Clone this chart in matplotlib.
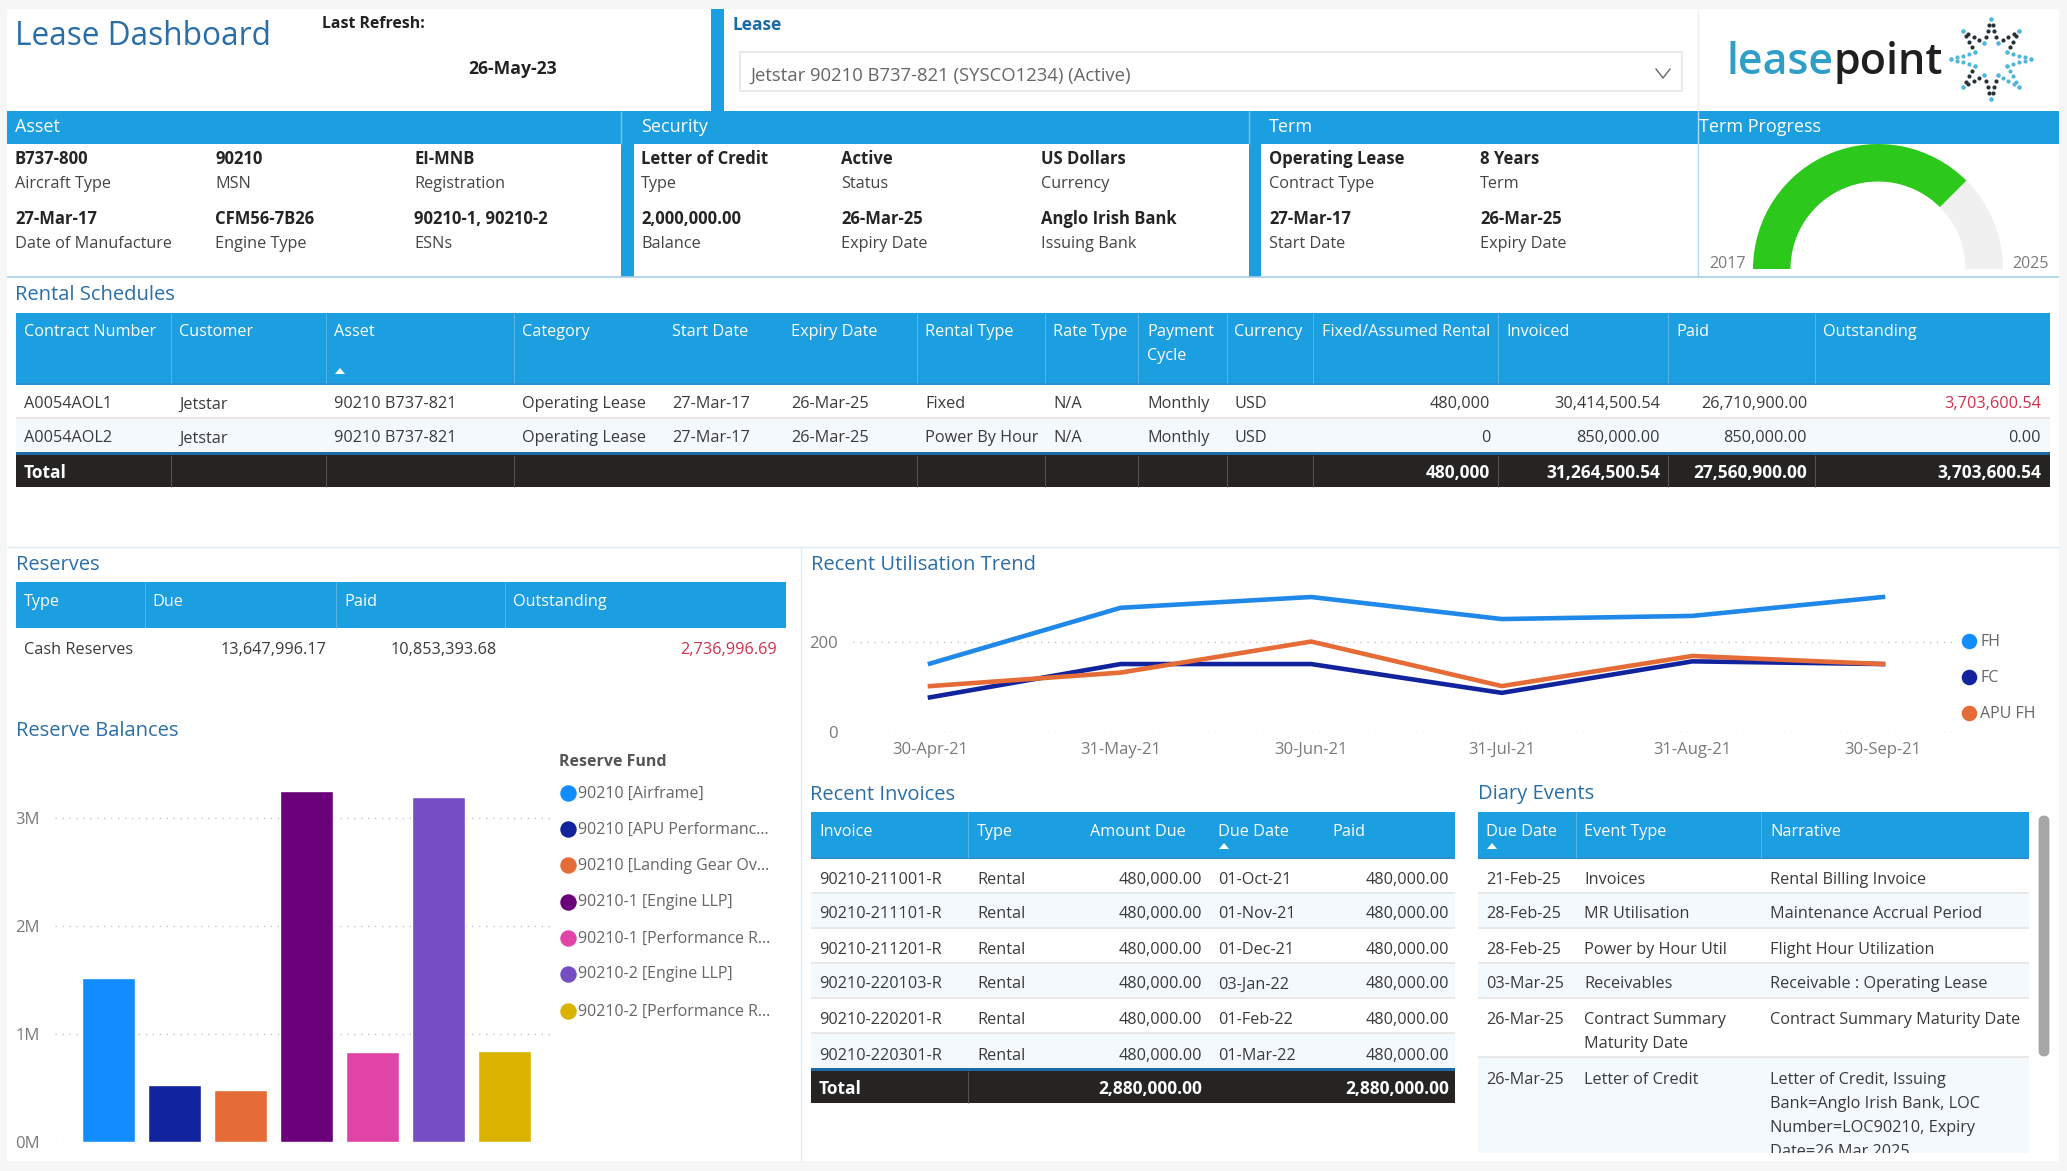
"""Lease dashboard, redrawn with one pixel-space canvas and real axes for the charts."""
import numpy as np
import matplotlib
matplotlib.use("Agg")
import matplotlib.pyplot as plt
from matplotlib.patches import Rectangle, Wedge, FancyBboxPatch, Polygon

plt.rcParams['font.family'] = ['Open Sans', 'DejaVu Sans']

W, H = 2067, 1171
BLUE = '#1c9fe0'
TITLE = '#2a6ea8'
DARK = '#252423'
GREY = '#7a7a7a'
RED = '#d0304a'
ALT = '#f3f9fd'
FS = 11.7   # body text, points
FSB = 12.5  # bold body text

# --- data ---
asset_rows = [("B737-800", "Aircraft Type"), ("90210", "MSN"), ("EI-MNB", "Registration"),
              ("27-Mar-17", "Date of Manufacture"), ("CFM56-7B26", "Engine Type"), ("90210-1, 90210-2", "ESNs")]
security_rows = [("Letter of Credit", "Type"), ("Active", "Status"), ("US Dollars", "Currency"),
                 ("2,000,000.00", "Balance"), ("26-Mar-25", "Expiry Date"), ("Anglo Irish Bank", "Issuing Bank")]
term_rows = [("Operating Lease", "Contract Type"), ("8 Years", "Term"),
             ("27-Mar-17", "Start Date"), ("26-Mar-25", "Expiry Date")]

gauge_min, gauge_max, gauge_value = 2017, 2025, 2023

rental_header = ["Contract Number", "Customer", "Asset", "Category", "Start Date", "Expiry Date", "Rental Type",
                 "Rate Type", "Payment\nCycle", "Currency", "Fixed/Assumed Rental", "Invoiced", "Paid", "Outstanding"]
rental_rows = [
    ["A0054AOL1", "Jetstar", "90210 B737-821", "Operating Lease", "27-Mar-17", "26-Mar-25", "Fixed", "N/A",
     "Monthly", "USD", "480,000", "30,414,500.54", "26,710,900.00", "3,703,600.54"],
    ["A0054AOL2", "Jetstar", "90210 B737-821", "Operating Lease", "27-Mar-17", "26-Mar-25", "Power By Hour", "N/A",
     "Monthly", "USD", "0", "850,000.00", "850,000.00", "0.00"],
]
rental_total = ["480,000", "31,264,500.54", "27,560,900.00", "3,703,600.54"]

reserve_header = ["Type", "Due", "Paid", "Outstanding"]
reserve_row = ["Cash Reserves", "13,647,996.17", "10,853,393.68", "2,736,996.69"]

fund_names = ["90210 [Airframe]", "90210 [APU Performanc...", "90210 [Landing Gear Ov...", "90210-1 [Engine LLP]",
              "90210-1 [Performance R...", "90210-2 [Engine LLP]", "90210-2 [Performance R..."]
fund_values = [1.52e6, 0.53e6, 0.484e6, 3.247e6, 0.836e6, 3.195e6, 0.844e6]
fund_colors = ['#118DFF', '#12239E', '#E66C37', '#6B007B', '#E044A7', '#744EC2', '#D9B300']

util_dates = ["30-Apr-21", "31-May-21", "30-Jun-21", "31-Jul-21", "31-Aug-21", "30-Sep-21"]
util_fh = [152, 276, 300, 251, 258, 300]
util_fc = [77, 151, 151, 87, 157, 151]
util_apu = [102, 132, 201, 102, 169, 151]

invoice_header = ["Invoice", "Type", "Amount Due", "Due Date", "Paid"]
invoice_ids = ["90210-211001-R", "90210-211101-R", "90210-211201-R", "90210-220103-R", "90210-220201-R", "90210-220301-R"]
invoice_due = ["01-Oct-21", "01-Nov-21", "01-Dec-21", "03-Jan-22", "01-Feb-22", "01-Mar-22"]
invoice_amount = "480,000.00"
invoice_total = "2,880,000.00"

diary_dates = ["21-Feb-25", "28-Feb-25", "28-Feb-25", "03-Mar-25", "26-Mar-25", "26-Mar-25"]
diary_types = ["Invoices", "MR Utilisation", "Power by Hour Util", "Receivables", "Contract Summary\nMaturity Date", "Letter of Credit"]
diary_notes = ["Rental Billing Invoice", "Maintenance Accrual Period", "Flight Hour Utilization", "Receivable : Operating Lease",
               "Contract Summary Maturity Date", "Letter of Credit, Issuing\nBank=Anglo Irish Bank, LOC\nNumber=LOC90210, Expiry\nDate=26 Mar 2025"]

# --- canvas in pixels ---
fig = plt.figure(figsize=(W / 100, H / 100), dpi=100, facecolor='#f6f6f6')
cv = fig.add_axes([0, 0, 1, 1])
cv.set_xlim(0, W)
cv.set_ylim(H, 0)
cv.axis('off')


def box(x0, y0, x1, y1, color, z=1, **kw):
    cv.add_patch(Rectangle((x0, y0), x1 - x0, y1 - y0, facecolor=color, edgecolor='none', zorder=z, **kw))


def put(x, y, s, color='#3a3a3a', size=None, weight='normal', ha='left', **kw):
    if size is None:
        size = FSB if weight == 'bold' else FS
    return cv.text(x, y + 2.5, s, color=color, fontsize=size, fontweight=weight, ha=ha, va='center', zorder=5, **kw)


def hline(x0, x1, y, color, lw=1.0):
    cv.plot([x0, x1], [y, y], color=color, lw=lw, zorder=3, solid_capstyle='butt')


def vline(x, y0, y1, color, lw=1.0):
    cv.plot([x, x], [y0, y1], color=color, lw=lw, zorder=3, solid_capstyle='butt')


def heading(x, y, s):
    put(x, y, s, color=TITLE, size=14.5)


def arrow_up(x, y):
    cv.add_patch(Polygon([(x - 5, y + 3), (x + 5, y + 3), (x, y - 3)], facecolor='white', edgecolor='none', zorder=5))


box(7, 9, 2059, 1161, 'white')

# top strip
put(15, 34, "Lease Dashboard", color=TITLE, size=22.8)
put(322, 21, "Last Refresh:", color='#222222', weight='bold', size=11.4)
put(468, 67, "26-May-23", color='#222222', weight='bold', size=12.7)
box(711, 9, 724, 111, BLUE)
put(733, 23, "Lease", color='#1b6aa5', weight='bold', size=12.5)
cv.add_patch(Rectangle((740, 52), 942, 39, facecolor='white', edgecolor='#e6e6e6', lw=1.2, zorder=2))
put(750, 73, "Jetstar 90210 B737-821 (SYSCO1234) (Active)", color='#666666', size=13.3)
cv.plot([1656, 1663, 1670], [69, 78, 69], color='#666666', lw=1.0, zorder=5)
vline(1698, 9, 111, '#eeeeee')

# logo
lt = put(1726, 60, "lease", color='#2f9fc8', size=31, weight='semibold')
fig.canvas.draw()
bb = lt.get_window_extent()
put(bb.x1, 60, "point", color='#1f1f1f', size=31, weight='semibold')
star_dark, star_teal = '#26323a', '#4fb6dc'
for i in range(8):
    mid = np.deg2rad(i * 45)
    tip = np.array([np.sin(mid), -np.cos(mid)]) * 40
    for side in (-1, 1):
        a = mid + side * np.deg2rad(22.5)
        base = np.array([np.sin(a), -np.cos(a)]) * 17
        for k, t in enumerate([0.0, 0.25, 0.5, 0.75, 1.0]):
            p = tip + (base - tip) * t
            col = star_teal if (k in (0, 4) or i in (2, 3, 6)) else star_dark
            cv.scatter(1991 + p[0], 59 + p[1], s=9, color=col, zorder=5, linewidths=0)

# section bands
box(7, 111, 2059, 144, BLUE)
for x, s in [(15, "Asset"), (641, "Security"), (1269, "Term"), (1699, "Term Progress")]:
    put(x, 124, s, color='white', size=13)
box(621, 144, 634, 277, BLUE)
box(1249, 144, 1261, 277, BLUE)
vline(621, 111, 144, '#7cc5ec')
vline(1249, 111, 144, '#7cc5ec')
vline(1698, 111, 277, '#b5d8ec')
hline(7, 2059, 277, '#a8d0e8', 1.2)


def kv_block(rows, xs, per_row):
    for i, (val, lab) in enumerate(rows):
        r, c = divmod(i, per_row)
        put(xs[c], 156 + 60 * r, val, color='#252423', weight='bold', size=12)
        put(xs[c], 182 + 59 * r, lab, color='#444444')


kv_block(asset_rows, [15, 215, 414], 3)
kv_block(security_rows, [641, 841, 1041], 3)
kv_block(term_rows, [1269, 1480], 2)

# gauge: a real axes, value sets the sweep
gx = fig.add_axes([1753 / W, 1 - 269 / H, 250 / W, 125 / H])
gx.set_xlim(-1, 1)
gx.set_ylim(0, 1)
gx.axis('off')
frac = (gauge_value - gauge_min) / (gauge_max - gauge_min)
split = 180 * (1 - frac)
gx.add_patch(Wedge((0, 0), 1, 0, split, width=0.3, facecolor='#f0f0f0', edgecolor='none'))
gx.add_patch(Wedge((0, 0), 1, split, 180, width=0.3, facecolor='#2dc81c', edgecolor='none'))
put(1709, 261, str(gauge_min), color=GREY, size=11.5)
put(2049, 261, str(gauge_max), color=GREY, size=11.5, ha='right')

# rental schedules table
heading(15, 293, "Rental Schedules")
seps = [171, 326, 514, 917, 1045, 1138, 1227, 1313, 1498, 1668, 1815]
col_x = [24, 179, 334, 522, 672, 791, 925, 1053, 1147, 1234, 1322, 1506, 1676, 1823]
col_r = {10: 1490, 11: 1660, 12: 1807, 13: 2041}
box(16, 313, 2050, 383, BLUE)
hline(16, 2050, 384, '#2b8fd0', 1.5)
for x in seps:
    vline(x, 313, 383, '#59b6e8', 0.7)
for x, s in zip(col_x, rental_header):
    for j, part in enumerate(s.split('\n')):
        put(x, 330 + j * 24, part, color='white')
arrow_up(340, 371)
box(16, 419, 2050, 452, ALT)
hline(16, 2050, 418, '#e8e8e8', 1.6)
for r, (row, y) in enumerate(zip(rental_rows, [402, 436])):
    for c, s in enumerate(row):
        if c in col_r:
            col = RED if (c == 13 and r == 0) else '#3a3a3a'
            put(col_r[c], y, s, color=col, ha='right')
        else:
            put(col_x[c], y, s)
box(16, 452, 2050, 455, '#1b6aa5')
box(16, 455, 2050, 487, DARK)
for x in seps:
    vline(x, 455, 487, '#555555', 0.7)
put(24, 470, "Total", color='white', weight='bold')
for c, s in zip([10, 11, 12, 13], rental_total):
    put(col_r[c], 470, s, color='white', weight='bold', ha='right')

# lower panels dividers
hline(7, 2059, 547, '#dcecf5', 1.0)
vline(801, 547, 1161, '#dcecf5', 1.0)

# reserves
heading(16, 562, "Reserves")
box(16, 582, 786, 628, BLUE)
for x in [145, 336, 505]:
    vline(x, 582, 628, '#59b6e8', 0.7)
for x, s in zip([24, 152, 344, 513], reserve_header):
    put(x, 600, s, color='white')
put(24, 648, reserve_row[0])
put(327, 648, reserve_row[1], ha='right')
put(497, 648, reserve_row[2], ha='right')
put(777, 648, reserve_row[3], color=RED, ha='right')

# reserve balances bars
heading(16, 729, "Reserve Balances")
bx = fig.add_axes([55 / W, 1 - 1142 / H, (554 - 55) / W, (1142 - 770) / H])
bx.patch.set_alpha(0)
bx.bar(range(len(fund_values)), fund_values, width=0.8, color=fund_colors, edgecolor='white', linewidth=1.0, zorder=3)
bx.set_xlim(-0.81, 6.75)
bx.set_ylim(0, (1142 - 770) / 108 * 1e6)
bx.set_yticks([0, 1e6, 2e6, 3e6])
bx.set_yticklabels(["0M", "1M", "2M", "3M"], color=GREY, fontsize=12)
bx.set_xticks([])
bx.tick_params(axis='y', length=0, pad=11)
bx.grid(axis='y', color='#c4c4c4', linestyle=(0, (1, 4)), linewidth=1.0, zorder=0)
for sp in bx.spines.values():
    sp.set_visible(False)

put(559, 760, "Reserve Fund", color='#555555', weight='bold', size=11.5)
for name, col, y in zip(fund_names, fund_colors, [793, 829, 865, 902, 938, 974, 1011]):
    cv.scatter(568, y, s=140, color=col, zorder=5, linewidths=0)
    put(578, y - 2, name, color='#666666', size=11.5)

# utilisation lines
heading(811, 562, "Recent Utilisation Trend")
lx = fig.add_axes([853 / W, 1 - 732 / H, (1956 - 853) / W, (732 - 590) / H])
lx.patch.set_alpha(0)
xs = np.arange(len(util_dates))
line_colors = ['#2088e8', '#12239E', '#E66C37']
lx.plot(xs, util_fh, color=line_colors[0], lw=3.3, zorder=3)
lx.plot(xs, util_fc, color=line_colors[1], lw=3.3, zorder=3)
lx.plot(xs, util_apu, color=line_colors[2], lw=3.3, zorder=4)
lx.set_xlim(-0.404, 5.383)
lx.set_ylim(0, (732 - 590) / 0.45)
lx.set_yticks([0, 200])
lx.set_yticklabels(["0", "200"], color=GREY, fontsize=12)
lx.set_xticks(xs)
lx.set_xticklabels(util_dates, color=GREY, fontsize=12)
lx.tick_params(axis='x', length=0, pad=7)
lx.tick_params(axis='y', length=0, pad=11)
lx.grid(axis='y', color='#c4c4c4', linestyle=(0, (1, 4)), linewidth=1.0, zorder=0)
for sp in lx.spines.values():
    sp.set_visible(False)
for name, col, y in zip(["FH", "FC", "APU FH"], ['#118DFF', '#12239E', '#E66C37'], [641, 677, 713]):
    cv.scatter(1969, y, s=125, color=col, zorder=5, linewidths=0)
    put(1980, y - 2, name, color='#666666', size=11.5)

# invoices table
heading(810, 792, "Recent Invoices")
box(811, 812, 1455, 858, BLUE)
hline(811, 1455, 858, '#2b8fd0', 1.5)
vline(968, 812, 858, '#59b6e8', 0.7)
for x, s in zip([819, 977, 1090, 1218, 1332], invoice_header):
    put(x, 830, s, color='white')
arrow_up(1224, 846)
row_y = [877, 912, 947, 982, 1017, 1053]
row_top = [858, 894, 929, 964, 999, 1034]
for i, (inv, due, y) in enumerate(zip(invoice_ids, invoice_due, row_y)):
    if i % 2:
        box(811, row_top[i], 1455, row_top[i] + 35, ALT)
    if i:
        hline(811, 1455, row_top[i] - 1, '#e8e8e8', 1.4)
    put(819, y, inv)
    put(977, y, "Rental")
    put(1202, y, invoice_amount, ha='right')
    put(1218, y, due)
    put(1449, y, invoice_amount, ha='right')
box(811, 1068, 1455, 1071, '#1b6aa5')
box(811, 1071, 1455, 1103, DARK)
vline(968, 1071, 1103, '#555555', 0.7)
put(819, 1086, "Total", color='white', weight='bold')
put(1202, 1086, invoice_total, color='white', weight='bold', ha='right')
put(1449, 1086, invoice_total, color='white', weight='bold', ha='right')

# diary events table
heading(1478, 792, "Diary Events")
box(1478, 812, 2029, 858, BLUE)
hline(1478, 2029, 858, '#2b8fd0', 1.5)
vline(1576, 812, 858, '#59b6e8', 0.7)
vline(1761, 812, 858, '#59b6e8', 0.7)
for x, s in zip([1486, 1584, 1770], ["Due Date", "Event Type", "Narrative"]):
    put(x, 830, s, color='white')
arrow_up(1492, 846)
box(1478, 894, 2029, 928, ALT)
box(1478, 964, 2029, 998, ALT)
box(1478, 1058, 2029, 1153, ALT)
for y in [893, 928, 963, 998, 1057]:
    hline(1478, 2029, y, '#e8e8e8', 1.4)
clip = Rectangle((1478, 858), 551, 295, transform=cv.transData)
line_h = 24
diary_y = [877, 912, 947, 982, 1017, 1077]
for d, t, n, y in zip(diary_dates, diary_types, diary_notes, diary_y):
    put(1486, y, d)
    for j, part in enumerate(t.split('\n')):
        put(1584, y + j * line_h, part)
    for j, part in enumerate(n.split('\n')):
        tt = put(1770, y + j * line_h, part)
        tt.set_clip_path(clip)
        tt.set_clip_on(True)
cv.add_patch(FancyBboxPatch((2040, 817), 8, 238, boxstyle="round,pad=0,rounding_size=4", facecolor='#a6a6a6',
                            edgecolor='#a6a6a6', lw=2, zorder=4))

fig.savefig('out.png', dpi=100, facecolor=fig.get_facecolor())
